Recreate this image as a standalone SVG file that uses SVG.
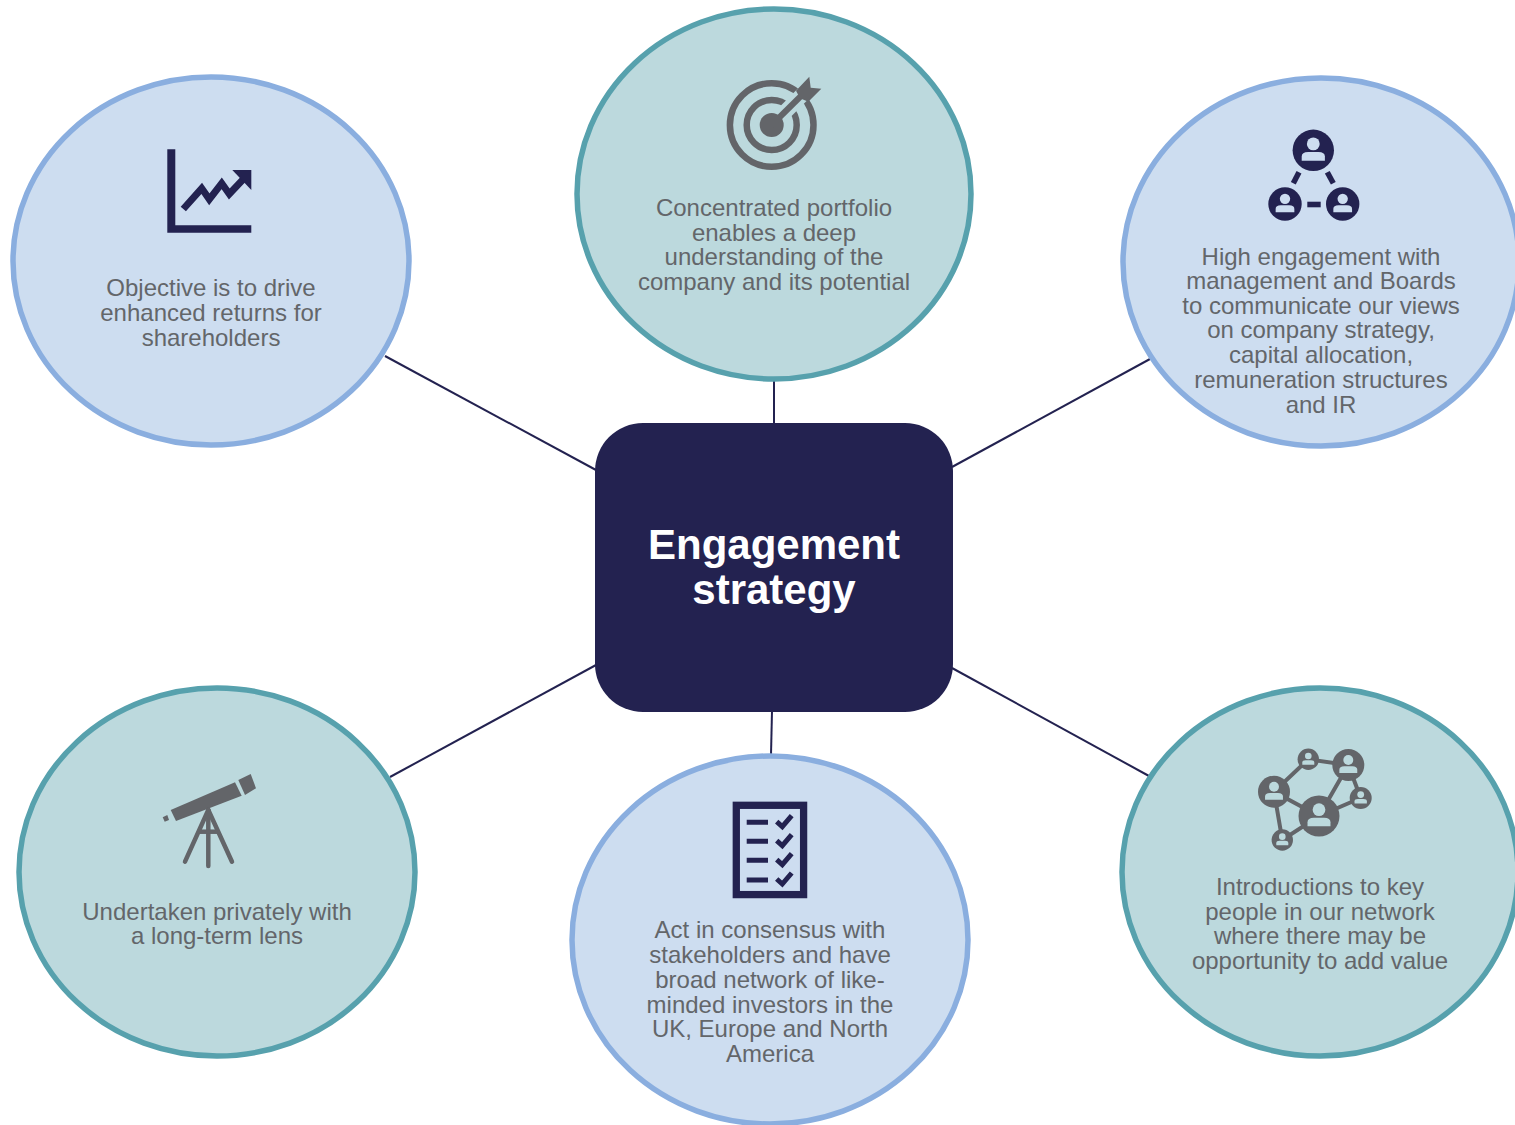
<svg xmlns="http://www.w3.org/2000/svg" width="1515" height="1125" viewBox="0 0 1515 1125">
<style>
.blue{fill:#cdddf0;stroke:#8aaedf;stroke-width:5.5}
.teal{fill:#bcd9dd;stroke:#57a1ad;stroke-width:5.5}
.t{font-family:"Liberation Sans",Arial,sans-serif;font-size:24px;fill:#63666a;text-anchor:middle}
.title{font-family:"Liberation Sans",Arial,sans-serif;font-size:42px;font-weight:bold;fill:#fff;text-anchor:middle}
.conn line{stroke:#232250;stroke-width:2}
.navy{color:#232250}
.grey{color:#636569}
.ln{stroke:currentColor;fill:none}
.fl{fill:currentColor}
</style>
<defs>
<g id="person">
<circle r="1" fill="currentColor"/>
<circle cy="-.31" r=".31"/>
<path d="M-.56 .5V.3Q-.56 .08-.25 .08H.25Q.56 .08 .56 .3V.5Z"/>
</g>
</defs>
<g id="connectors" class="conn">
<line x1="385" y1="356" x2="596" y2="470"/>
<line x1="774" y1="380" x2="774" y2="424"/>
<line x1="1150" y1="359" x2="952" y2="467"/>
<line x1="596" y1="665" x2="390" y2="777"/>
<line x1="772" y1="711" x2="771" y2="755"/>
<line x1="952" y1="668" x2="1149" y2="776"/>
</g>
<g id="node-objective">
<ellipse class="blue" cx="211" cy="261" rx="198" ry="184"/>
<g class="navy">
<path class="fl" d="M167.300 149.300H175.300V225.300H251.300V232.700H167.300Z"/>
<polyline class="ln" stroke-width="7" points="183.300,209 201.700,188.300 209.300,199.300 221.700,183.300 229.300,194 245,177.300"/>
<path class="fl" d="M232.300 170H251.300V190Z"/>
</g>
<text class="t" x="211" y="296">Objective is to drive</text>
<text class="t" x="211" y="321">enhanced returns for</text>
<text class="t" x="211" y="346">shareholders</text>
</g>
<g id="node-portfolio">
<ellipse class="teal" cx="774" cy="194" rx="197" ry="185"/>
<g class="grey">
<circle class="ln" cx="771.700" cy="125" r="41.800" stroke-width="6.500"/>
<circle class="ln" cx="771.700" cy="125" r="25" stroke-width="6.500"/>
<line x1="778" y1="119" x2="812" y2="85" stroke="#bcd9dd" stroke-width="15"/>
<circle class="fl" cx="771.700" cy="125" r="12"/>
<line class="ln" x1="771.700" y1="125" x2="802" y2="95" stroke-width="6"/>
<path class="fl" d="M796 90.700 809.300 76.700 810.700 87.700 821.300 88.700 808.300 101.700 800 98.300Z"/>
</g>
<text class="t" x="774" y="216">Concentrated portfolio</text>
<text class="t" x="774" y="241">enables a deep</text>
<text class="t" x="774" y="265">understanding of the</text>
<text class="t" x="774" y="290">company and its potential</text>
</g>
<g id="node-management">
<ellipse class="blue" cx="1321" cy="262" rx="198" ry="184"/>
<g class="navy" fill="#cdddf0">
<use href="#person" transform="translate(1313.300 150.300) scale(20.700)"/>
<use href="#person" transform="translate(1285 204) scale(16.700)"/>
<use href="#person" transform="translate(1342.700 204) scale(16.700)"/>
<path class="fl" d="M1307.300 201.700H1320.700V207.300H1307.300Z"/>
<line class="ln" x1="1299" y1="172.300" x2="1293.300" y2="183.300" stroke-width="5.500"/>
<line class="ln" x1="1327.300" y1="172.300" x2="1333.300" y2="183.300" stroke-width="5.500"/>
</g>
<text class="t" x="1321" y="265">High engagement with</text>
<text class="t" x="1321" y="289">management and Boards</text>
<text class="t" x="1321" y="314">to communicate our views</text>
<text class="t" x="1321" y="338">on company strategy,</text>
<text class="t" x="1321" y="363">capital allocation,</text>
<text class="t" x="1321" y="388">remuneration structures</text>
<text class="t" x="1321" y="413">and IR</text>
</g>
<g id="node-undertaken">
<ellipse class="teal" cx="217" cy="872" rx="198" ry="184"/>
<g class="grey">
<path class="fl" d="M170.700 810 235 782.300 241.700 795.700 176 821Z"/>
<path class="fl" d="M238.300 780 250.700 774 256 788.300 245 795Z"/>
<path class="fl" d="M162.700 817.300 167.300 815 169 820 164.700 821.700Z"/>
<g class="ln" stroke-width="4.500" stroke-linecap="round">
<line x1="208.300" y1="810" x2="185" y2="861.700"/>
<line x1="208.300" y1="810" x2="208.300" y2="866"/>
<line x1="208.300" y1="810" x2="232" y2="861.700"/>
<line x1="199.300" y1="831.700" x2="217.700" y2="831.700" stroke-linecap="butt"/>
</g>
</g>
<text class="t" x="217" y="920">Undertaken privately with</text>
<text class="t" x="217" y="944">a long-term lens</text>
</g>
<g id="node-consensus">
<ellipse class="blue" cx="770" cy="940" rx="198" ry="184"/>
<g class="navy">
<rect class="ln" x="736.300" y="805.300" width="67.300" height="89.300" stroke-width="7.300"/>
<g class="ln" stroke-width="5">
<path d="M746.700 822.300H768M746.700 841.300H768M746.700 860.300H768M746.700 880H768"/>
<path d="M776.700 821.700 782.300 826.700 791.700 815.700M776.700 840.700 782.300 845.700 791.700 834.700M776.700 859.700 782.300 864.700 791.700 853.700M776.700 879 782.300 884 791.700 873"/>
</g>
</g>
<text class="t" x="770" y="938">Act in consensus with</text>
<text class="t" x="770" y="963">stakeholders and have</text>
<text class="t" x="770" y="988">broad network of like-</text>
<text class="t" x="770" y="1013">minded investors in the</text>
<text class="t" x="770" y="1037">UK, Europe and North</text>
<text class="t" x="770" y="1062">America</text>
</g>
<g id="node-introductions">
<ellipse class="teal" cx="1320" cy="872" rx="198" ry="184"/>
<g class="grey" fill="#bcd9dd">
<g class="ln" stroke-width="4">
<path d="M1274 791.700 1308.300 759.300 1348.300 765 1319 816 1274 791.700 1282.300 840 1319 816 1360.700 798 1348.300 765"/>
</g>
<use href="#person" transform="translate(1319 816) scale(20.500)"/>
<use href="#person" transform="translate(1348.300 765) scale(16)"/>
<use href="#person" transform="translate(1308.300 759.300) scale(10.700)"/>
<use href="#person" transform="translate(1274 791.700) scale(16)"/>
<use href="#person" transform="translate(1360.700 798) scale(11)"/>
<use href="#person" transform="translate(1282.300 840) scale(10.700)"/>
</g>
<text class="t" x="1320" y="895">Introductions to key</text>
<text class="t" x="1320" y="920">people in our network</text>
<text class="t" x="1320" y="944">where there may be</text>
<text class="t" x="1320" y="969">opportunity to add value</text>
</g>
<g id="node-center">
<rect x="595" y="423" width="358" height="289" rx="48" fill="#232250"/>
<text class="title" x="774" y="559">Engagement</text>
<text class="title" x="774" y="604">strategy</text>
</g>
</svg>
